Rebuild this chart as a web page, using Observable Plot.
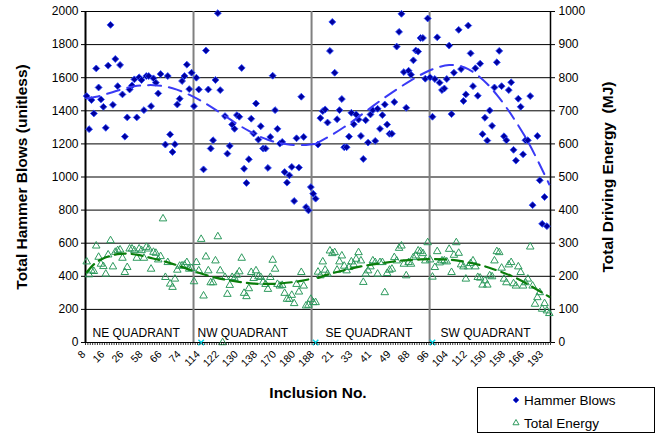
<!DOCTYPE html>
<html>
<head>
<meta charset="utf-8">
<script src="https://cdn.jsdelivr.net/npm/d3@7"></script>
<script src="https://cdn.jsdelivr.net/npm/@observablehq/plot@0.6"></script>
<style>
  html, body { margin: 0; padding: 0; background: #fff; }
  #chart { position: relative; width: 663px; height: 434px; font-family: "Liberation Sans", Arial, sans-serif; }
  #chart svg { display: block; }
  .legend { position: absolute; left: 477px; top: 387px; width: 178px; height: 46px; box-sizing: border-box;
            border: 1px solid #000; background: #fff; font-size: 13.5px; color: #000; }
  .legend .item { position: absolute; left: 33px; display: flex; align-items: center; white-space: nowrap; }
  .legend svg { margin-right: 3px; }
</style>
</head>
<body>
<div id="chart"></div>
<script>
// Hammer blows per inclusion, grouped by quadrant (null = no reading)
const blowsNE = [1489,1289,1465,1384,1656,1541,1469,1424,1297,1673,1919,1436,1713,1549,1677,1499,1244,1360,1529,1553,1590,1360,1602,1586,1404,1610,1610,1428,1596,1570,1505,1622,null,1196,1610,1257,1151,1198,1438,1473,1580,1610,1679,1531,1630,1428,1600];
const blowsNW = [1529,null,1046,1764,1529,1172,1222,1586,1990,1525,null,1368,1141,1188,1317,1291,1374,1364,1659,1050,964,1107,1352,1263,1444,1226,1307,1172,1172,1055,1242,1612,1404,1291,1202,1212,1030,966,1010,1061,855,1234,1057,1485,1242,818,798,939,899,869];
const blowsSE = [1196,1356,1398,1408,1329,1762,1937,1630,1349,1404,1471,1180,1180,1244,1388,1319,1378,1347,1248,1109,1343,1208,1378,1404,1218,1412,1291,1374,1438,1317,1261,1261,1453,1788,1877,1986,1634,1418,1642,1618,1705,1764,1758,1840,1840,1594,1958];
const blowsSW = [1602,1364,1592,1844,1570,1525,1535,1592,1794,1380,1630,null,1889,1652,1459,1499,1915,1747,1549,1657,1491,1685,1259,1358,1220,1402,1309,1541,1693,1762,1549,1246,1222,1525,1572,1164,1099,1473,1424,1137,1222,1222,1489,830,null,1248,980,717,879,703,null];

// Total driving energy (MJ) per inclusion
const energyNE = [244,205,217,215,292,258,237,230,207,265,308,229,273,278,280,255,212,227,283,283,278,255,283,278,255,288,283,222,273,270,250,260,374,197,242,177,167,192,219,231,232,234,242,222,224,184,242];
const energyNW = [217,312,141,259,217,181,181,247,320,217,0,197,146,173,197,194,204,214,255,149,139,163,212,194,217,199,197,183,176,161,197,249,222,176,171,173,149,131,131,143,118,176,153,212,171,111,113,131,121,121];
const energySE = [213,202,244,219,207,277,269,272,219,244,262,231,217,227,244,235,252,272,247,182,207,217,229,247,242,207,242,242,151,209,219,222,257,247,285,292,237,202,242,237,257,262,277,275,269,247,302];
const energySW = [250,198,227,275,241,247,247,244,282,212,264,302,270,235,229,192,229,239,247,229,197,195,174,187,174,202,199,247,275,272,225,192,181,235,242,178,171,229,212,171,181,192,289,171,116,136,151,101,118,96,88];

// Trend curves: [inclusion position, value]
const blowsTrendNorth = [[0,1475],[4,1485],[8,1500],[12,1518],[16,1535],[20,1548],[24,1554],[28,1555],[32,1549],[36,1536],[40,1516],[44,1490],[48,1460],[52,1425],[56,1388],[60,1350],[64,1312],[68,1278],[72,1248],[76,1225],[80,1208],[84,1198],[88,1193],[92,1194],[96,1200]];
const blowsTrendSouth = [[96,1200],[100,1232],[104,1265],[108,1302],[112,1342],[116,1385],[120,1428],[124,1470],[128,1510],[132,1548],[136,1584],[140,1617],[144,1645],[148,1665],[152,1676],[156,1672],[160,1652],[164,1614],[168,1562],[172,1496],[176,1420],[180,1334],[184,1240],[188,1132],[192,1015],[194,955]];
const energyTrendNorth = [[0,212],[3,236],[6,251],[10,262],[14,268],[18,268],[22,264],[26,257],[30,250],[34,242],[38,233],[42,223],[46,213],[50,204],[54,196],[58,190],[62,185],[66,181],[70,178],[74,177],[78,177],[82,179],[86,182],[90,186],[95,194]];
const energyTrendSouth = [[97,195],[101,205],[105,213],[110,222],[115,230],[120,236],[125,241],[130,246],[135,249],[140,251],[145,252],[150,251],[155,248],[160,242],[165,234],[170,223],[175,210],[180,195],[185,176],[190,155],[194,138]];

// Category tick labels (every 8th inclusion)
const tickLabels = ["8","16","26","58","66","74","114","122","130","138","170","180","188","21","33","41","49","88","96","104","112","150","158","166","193"];

// Quadrants: names, starting position on the inclusion axis, and start markers
const quadrantNames = ["NE QUADRANT","NW QUADRANT","SE QUADRANT","SW QUADRANT"];
const quadrantStarts = [-0.5, 44.8, 94.3, 143.8];
const quadrantMarks = [48, 96, 145];

const blows = [...blowsNE, ...blowsNW, ...blowsSE, ...blowsSW];
const energy = [...energyNE, ...energyNW, ...energySE, ...energySW];
const N = blows.length;
const rows = d3.range(N).map(i => ({i, blows: blows[i], energy: energy[i]}));

const MJ_TO_AXIS = 2;               // right axis (0-1000 MJ) shares the 0-2000 scale
const yTicks = d3.range(0, 2001, 200);
const labelDx = [7, 4, 14, 11];
const font = "Liberation Sans, Arial, sans-serif";

const chart = Plot.plot({
  width: 663,
  height: 434,
  marginLeft: 85,
  marginRight: 113,
  marginTop: 11,
  marginBottom: 92,
  style: {fontFamily: font, background: "#fff", color: "#000", overflow: "visible"},
  x: {domain: [-0.5, N - 0.5], axis: null},
  y: {domain: [0, 2000], axis: null},
  marks: [
    Plot.ruleY(yTicks, {stroke: "#000", strokeWidth: 1}),
    Plot.ruleX(quadrantStarts.slice(1), {stroke: "#808080", strokeWidth: 2}),
    Plot.ruleX([-0.5], {stroke: "#000", strokeWidth: 2}),
    Plot.ruleX([N - 0.5], {stroke: "#000", strokeWidth: 1.5}),

    Plot.dot(rows, {filter: d => d.blows != null, x: "i", y: "blows", symbol: "diamond2", r: 3.1,
      fill: "#00009e", stroke: "#2f4cff", strokeWidth: 0.9}),
    Plot.dot(rows, {filter: d => d.energy != null, x: "i", y: d => d.energy * MJ_TO_AXIS, symbol: "triangle", r: 2.8,
      fill: "none", stroke: "#2e9a5e", strokeWidth: 1}),
    Plot.dot(quadrantMarks, {x: d => d, y: 0, symbol: "times", r: 2.6, stroke: "#00d4e6", strokeWidth: 1.5}),

    Plot.line(blowsTrendNorth, {x: d => d[0], y: d => d[1], curve: "natural", stroke: "#3a3af5", strokeWidth: 2, strokeDasharray: "13,8"}),
    Plot.line(blowsTrendSouth, {x: d => d[0], y: d => d[1], curve: "natural", stroke: "#3a3af5", strokeWidth: 2, strokeDasharray: "13,8"}),
    Plot.line(energyTrendNorth, {x: d => d[0], y: d => d[1] * MJ_TO_AXIS, curve: "natural", stroke: "#0a7d0a", strokeWidth: 2.2, strokeDasharray: "11,6"}),
    Plot.line(energyTrendSouth, {x: d => d[0], y: d => d[1] * MJ_TO_AXIS, curve: "natural", stroke: "#0a7d0a", strokeWidth: 2.2, strokeDasharray: "11,6"}),

    ...quadrantNames.map((name, k) => Plot.text([name], {
      x: quadrantStarts[k], y: 0, dx: labelDx[k], dy: -9, textAnchor: "start",
      fontSize: 12, fill: "#000"
    })),

    // axes
    Plot.axisY(yTicks, {anchor: "left", tickFormat: d => String(d), tickSize: 4, tickPadding: 3, fontSize: 12, label: null}),
    Plot.axisY(yTicks, {anchor: "right", tickFormat: d => String(d / MJ_TO_AXIS), tickSize: 4, tickPadding: 4, fontSize: 12, label: null}),
    Plot.axisX(d3.range(N + 1).map(i => i - 0.5), {tickSize: 3, tickFormat: () => "", label: null, strokeWidth: 0.8}),
    Plot.axisX(d3.range(0, N, 8), {tickFormat: d => tickLabels[d / 8], tickRotate: -45, tickSize: 0,
      tickPadding: 10, dx: -3, fontSize: 10.5, label: null}),

    // axis titles
    Plot.text(["Total Hammer Blows (unitless)"], {frameAnchor: "left", dx: -63, rotate: -90, textAnchor: "middle",
      fontWeight: "bold", fontSize: 15.5, fill: "#000"}),
    Plot.text(["Total Driving Energy  (MJ)"], {frameAnchor: "right", dx: 58, rotate: -90, textAnchor: "middle",
      fontWeight: "bold", fontSize: 15.5, fill: "#000"}),
    Plot.text(["Inclusion No."], {frameAnchor: "bottom", dy: 55, textAnchor: "middle",
      fontWeight: "bold", fontSize: 15.5, fill: "#000"})
  ]
});

const root = document.getElementById("chart");
root.appendChild(chart);

// Legend
const diamondPath = d3.symbol(d3.symbolDiamond2, 22)();
const trianglePath = d3.symbol(d3.symbolTriangle, 16)();
const legend = document.createElement("div");
legend.className = "legend";
legend.innerHTML = `
  <div class="item" style="top:3px;height:18px">
    <svg width="10" height="10" viewBox="-5 -5 10 10"><path d="${diamondPath}" fill="#00009e" stroke="#2f4cff" stroke-width="0.8"/></svg>
    <span>Hammer Blows</span>
  </div>
  <div class="item" style="top:26px;height:18px">
    <svg width="10" height="10" viewBox="-5 -5 10 10"><path d="${trianglePath}" fill="none" stroke="#2e9a5e" stroke-width="1"/></svg>
    <span>Total Energy</span>
  </div>`;
root.appendChild(legend);
</script>
</body>
</html>
